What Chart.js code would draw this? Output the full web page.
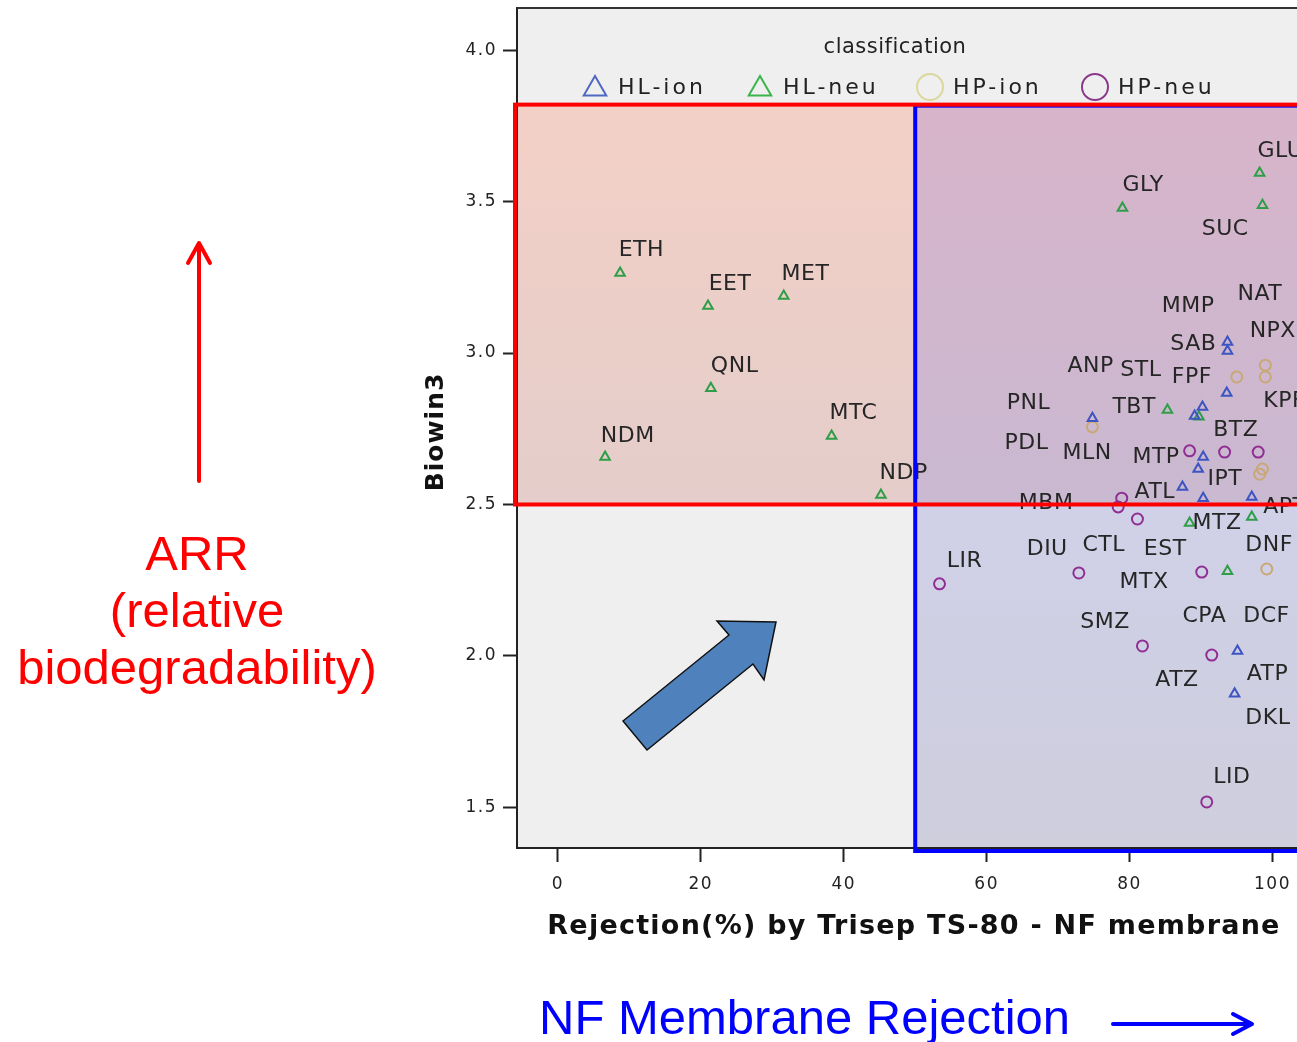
<!DOCTYPE html>
<html>
<head>
<meta charset="utf-8">
<title>Biowin3 vs NF membrane rejection</title>
<script src="https://cdn.jsdelivr.net/npm/chart.js@4.4.1/dist/chart.umd.min.js"></script>
<style>
  html, body { margin: 0; padding: 0; background: #fff; overflow: hidden; }
  #wrap { width: 1297px; height: 1042px; position: relative; overflow: hidden; }
  #chart { position: absolute; left: 0; top: 0; }
</style>
</head>
<body>
<!-- the figure is cropped on the right, so the canvas runs a little past the page -->
<div id="wrap"><canvas id="chart" width="1304" height="1042"></canvas></div>
<script>
// Rejection (%) and Biowin3 values, one pair of arrays per class
const hlIonX = [93.7, 93.7, 93.6, 90.2, 89.1, 74.8, 90.3, 89.6, 87.4, 90.3, 97.1, 95.1, 94.7];
const hlIonY = [3.036, 3.007, 2.868, 2.822, 2.792, 2.785, 2.657, 2.617, 2.558, 2.521, 2.525, 2.016, 1.875];

const hlNeuX = [8.7, 21.0, 31.6, 21.4, 6.6, 38.3, 45.2, 79.0, 98.2, 98.6, 85.3, 89.7, 88.4, 97.1, 93.7];
const hlNeuY = [3.264, 3.155, 3.188, 2.884, 2.657, 2.726, 2.531, 3.479, 3.594, 3.488, 2.812, 2.790, 2.439, 2.459, 2.280];

const hpIonX = [74.8, 95.0, 99.0, 99.0, 98.2, 98.6, 99.2];
const hpIonY = [2.756, 2.921, 2.960, 2.921, 2.600, 2.617, 2.287];

const hpNeuX = [53.4, 72.9, 90.1, 81.8, 91.5, 90.8, 78.9, 78.4, 81.1, 88.4, 93.3, 98.0];
const hpNeuY = [2.238, 2.274, 2.277, 2.033, 2.003, 1.518, 2.521, 2.492, 2.452, 2.677, 2.673, 2.673];

// compound labels and where their text starts (data units)
const labelNames = ['ETH', 'EET', 'MET', 'QNL', 'NDM', 'MTC', 'NDP', 'GLY', 'GLU', 'SUC',
  'MMP', 'NAT', 'NPX', 'SAB', 'ANP', 'STL', 'FPF', 'PNL', 'TBT', 'KPF',
  'BTZ', 'PDL', 'MLN', 'MTP', 'IPT', 'ATL', 'MBM', 'APT', 'MTZ', 'DIU',
  'CTL', 'EST', 'DNF', 'LIR', 'MTX', 'SMZ', 'CPA', 'DCF', 'ATZ', 'ATP', 'DKL', 'LID'];
const labelX = [8.5, 21.1, 31.3, 21.4, 6.0, 38.0, 45.0, 79.0, 97.9, 90.1,
  84.5, 95.1, 96.8, 85.7, 71.3, 78.7, 85.9, 62.8, 77.6, 98.7,
  91.7, 62.5, 70.6, 80.4, 90.9, 80.7, 64.5, 98.7, 88.8, 65.6,
  73.4, 82.0, 96.2, 54.4, 78.6, 73.1, 87.4, 95.9, 83.6, 96.4, 96.2, 91.7];
const labelY = [3.340, 3.228, 3.261, 2.957, 2.726, 2.802, 2.604, 3.554, 3.667, 3.409,
  3.155, 3.195, 3.073, 3.030, 2.957, 2.944, 2.921, 2.835, 2.822, 2.842,
  2.746, 2.703, 2.670, 2.657, 2.584, 2.541, 2.505, 2.492, 2.439, 2.353,
  2.366, 2.353, 2.366, 2.314, 2.244, 2.112, 2.132, 2.132, 1.921, 1.941, 1.795, 1.601];

const classNames = ['HL-ion', 'HL-neu', 'HP-ion', 'HP-neu'];
const xTicks = [0, 20, 40, 60, 80, 100];
const yTicks = [1.5, 2.0, 2.5, 3.0, 3.5, 4.0];
const xMin = -5.73, xMax = 103.36;
const yMin = 1.366, yMax = 4.139;

// highlighted zones: high ARR (red) and high rejection (blue)
const rejectionCut = 50;
const biowinCut = 2.5;
const zoneTop = 3.82;

const groups = [
  { x: hlIonX, y: hlIonY, shape: 'triangle', color: '#3d55c2', key: '#5068c2' },
  { x: hlNeuX, y: hlNeuY, shape: 'triangle', color: '#2f9e48', key: '#3cb44b' },
  { x: hpIonX, y: hpIonY, shape: 'circle', color: '#c9a877', key: '#dcd79c' },
  { x: hpNeuX, y: hpNeuY, shape: 'circle', color: '#8f2f93', key: '#8b3a8b' }
];

const FONT = '"DejaVu Sans", sans-serif';

function vGrad(ctx, y0, y1, c0, c1) {
  const g = ctx.createLinearGradient(0, y0, 0, y1);
  g.addColorStop(0, c0);
  g.addColorStop(1, c1);
  return g;
}

// plot background and shaded zones, under the scales
const zoneFill = {
  id: 'zoneFill',
  beforeDraw(chart) {
    const { ctx, chartArea: a, scales: { x, y } } = chart;
    const xc = x.getPixelForValue(rejectionCut);
    const yc = y.getPixelForValue(biowinCut);
    const yt = y.getPixelForValue(zoneTop);
    const right = chart.width;
    ctx.save();
    ctx.fillStyle = '#efefef';
    ctx.fillRect(a.left, a.top, right - a.left, a.bottom - a.top);
    // red zone
    ctx.fillStyle = vGrad(ctx, yt, yc, '#f3d0c6', '#e4cdca');
    ctx.fillRect(a.left - 3, yt, right - a.left + 3, yc - yt);
    // overlap
    ctx.fillStyle = vGrad(ctx, yt, yc, '#d8b4ca', '#c9b9d1');
    ctx.fillRect(xc, yt, right - xc, yc - yt);
    // blue zone below the red one
    ctx.fillStyle = vGrad(ctx, yc, a.bottom, '#d0d0e8', '#cecedd');
    ctx.fillRect(xc, yc, right - xc, a.bottom + 2 - yc);
    ctx.restore();
    ctx.letterSpacing = '1.5px';
  }
};

function drawTriangle(ctx, cx, cy, r) {
  ctx.beginPath();
  for (let k = 0; k < 3; k++) {
    const ang = k * 2 * Math.PI / 3;
    const px = cx + Math.sin(ang) * r, py = cy - Math.cos(ang) * r;
    if (k === 0) ctx.moveTo(px, py); else ctx.lineTo(px, py);
  }
  ctx.closePath();
  ctx.stroke();
}

function arrowHead(ctx, tx, ty, ax, ay, bx, by) {
  ctx.beginPath();
  ctx.moveTo(ax, ay);
  ctx.lineTo(tx, ty);
  ctx.lineTo(bx, by);
  ctx.stroke();
}

const overlay = {
  id: 'overlay',
  afterDatasetsDraw(chart) {
    const { ctx, chartArea: a, scales: { x, y } } = chart;
    const right = chart.width;
    ctx.save();
    ctx.letterSpacing = '0.5px';

    // compound labels
    ctx.font = '22px ' + FONT;
    ctx.fillStyle = '#262626';
    ctx.textAlign = 'left';
    ctx.textBaseline = 'middle';
    labelNames.forEach((name, i) => {
      ctx.fillText(name, x.getPixelForValue(labelX[i]), y.getPixelForValue(labelY[i]));
    });

    // plot frame top edge
    ctx.strokeStyle = '#333';
    ctx.lineWidth = 2;
    ctx.beginPath();
    ctx.moveTo(a.left, a.top);
    ctx.lineTo(right, a.top);
    ctx.stroke();

    // zone borders
    const xc = x.getPixelForValue(rejectionCut);
    const yc = y.getPixelForValue(biowinCut);
    const yt = y.getPixelForValue(zoneTop);
    ctx.lineWidth = 4;
    ctx.strokeStyle = '#0000ff';
    ctx.strokeRect(xc, yt + 1, right + 10 - xc, a.bottom + 2 - yt);
    ctx.strokeStyle = '#ff0000';
    ctx.strokeRect(a.left - 2, yt, right + 10 - a.left, yc - yt);

    // legend
    ctx.fillStyle = '#222';
    ctx.font = '21px ' + FONT;
    ctx.textAlign = 'center';
    ctx.fillText('classification', 895, 48);
    const keyX = [595, 760, 930, 1095];
    ctx.font = '22px ' + FONT;
    ctx.textAlign = 'left';
    ctx.letterSpacing = '3px';
    groups.forEach((g, i) => {
      ctx.strokeStyle = g.key;
      ctx.lineWidth = 2;
      if (g.shape === 'triangle') {
        drawTriangle(ctx, keyX[i], 89, 13);
      } else {
        ctx.beginPath();
        ctx.arc(keyX[i], 87, 13, 0, Math.PI * 2);
        ctx.stroke();
      }
      ctx.fillText(classNames[i], keyX[i] + 23, 88);
    });
    ctx.restore();
  },
  afterDraw(chart) {
    const { ctx } = chart;
    ctx.save();

    // axis titles
    ctx.fillStyle = '#111';
    ctx.textAlign = 'center';
    ctx.textBaseline = 'middle';
    const xTitle = 'Rejection(%) by Trisep TS-80 - NF membrane';
    ctx.font = 'bold 27px ' + FONT;
    ctx.letterSpacing = '0px';
    const w = ctx.measureText(xTitle).width;
    ctx.letterSpacing = ((732 - w) / (xTitle.length - 1)).toFixed(2) + 'px';
    ctx.fillText(xTitle, 914, 927);

    ctx.save();
    ctx.translate(436, 432);
    ctx.rotate(-Math.PI / 2);
    ctx.font = 'bold 25px ' + FONT;
    ctx.letterSpacing = '1px';
    ctx.fillText('Biowin3', 0, 0);
    ctx.restore();

    // side annotations
    ctx.letterSpacing = '0px';
    ctx.fillStyle = '#ff0000';
    ctx.font = '49px "Liberation Sans", Arial, sans-serif';
    ctx.fillText('ARR', 197, 556);
    ctx.fillText('(relative', 197, 613);
    ctx.fillText('biodegradability)', 197, 670);

    ctx.strokeStyle = '#ff0000';
    ctx.lineWidth = 4;
    ctx.lineCap = 'round';
    ctx.lineJoin = 'round';
    ctx.beginPath();
    ctx.moveTo(199, 481);
    ctx.lineTo(199, 246);
    ctx.stroke();
    arrowHead(ctx, 199, 243, 188, 263, 210, 263);

    ctx.fillStyle = '#0000ff';
    ctx.font = '49px "Liberation Sans", Arial, sans-serif';
    ctx.textAlign = 'left';
    ctx.fillText('NF Membrane Rejection', 539, 1020);
    ctx.strokeStyle = '#0000ff';
    ctx.beginPath();
    ctx.moveTo(1113, 1024);
    ctx.lineTo(1250, 1024);
    ctx.stroke();
    arrowHead(ctx, 1252, 1024, 1233, 1014, 1233, 1034);

    // big diagonal block arrow
    ctx.fillStyle = '#4f81bd';
    ctx.strokeStyle = '#111';
    ctx.lineWidth = 1.5;
    ctx.lineCap = 'butt';
    ctx.lineJoin = 'miter';
    ctx.beginPath();
    ctx.moveTo(623, 721);
    ctx.lineTo(647, 750);
    ctx.lineTo(753, 664);
    ctx.lineTo(764, 680);
    ctx.lineTo(776, 622);
    ctx.lineTo(717, 621);
    ctx.lineTo(729, 635);
    ctx.closePath();
    ctx.fill();
    ctx.stroke();
    ctx.restore();
  }
};

const axisTick = { size: 17, family: FONT };

const chart = new Chart(document.getElementById('chart'), {
  type: 'scatter',
  data: {
    datasets: groups.map((g, i) => ({
      label: classNames[i],
      data: g.x.map((v, k) => ({ x: v, y: g.y[k] })),
      pointStyle: g.shape,
      pointRadius: 5.5,
      borderWidth: 2,
      borderColor: g.color,
      backgroundColor: 'rgba(0,0,0,0)'
    }))
  },
  options: {
    responsive: false,
    animation: false,
    devicePixelRatio: 1,
    layout: { padding: { top: 8, left: 0, right: 0, bottom: 0 } },
    plugins: { legend: { display: false }, tooltip: { enabled: false } },
    scales: {
      x: {
        type: 'linear',
        min: xMin,
        max: xMax,
        afterBuildTicks: s => { s.ticks = xTicks.map(v => ({ value: v })); },
        afterFit: s => { s.height = 194; },
        grid: { drawOnChartArea: false, tickLength: 14, tickColor: '#222', tickWidth: 2 },
        border: { color: '#222', width: 2 },
        ticks: { padding: 12, color: '#222', font: axisTick, maxRotation: 0, callback: v => String(v) }
      },
      y: {
        type: 'linear',
        min: yMin,
        max: yMax,
        afterBuildTicks: s => { s.ticks = yTicks.map(v => ({ value: v })); },
        afterFit: s => { s.width = 517; s.paddingTop = 0; s.paddingBottom = 0; },
        grid: { drawOnChartArea: false, tickLength: 14, tickColor: '#222', tickWidth: 2 },
        border: { color: '#222', width: 2 },
        ticks: { padding: 6, color: '#222', font: axisTick, callback: v => v.toFixed(1) }
      }
    }
  },
  plugins: [zoneFill, overlay]
});
</script>
</body>
</html>
